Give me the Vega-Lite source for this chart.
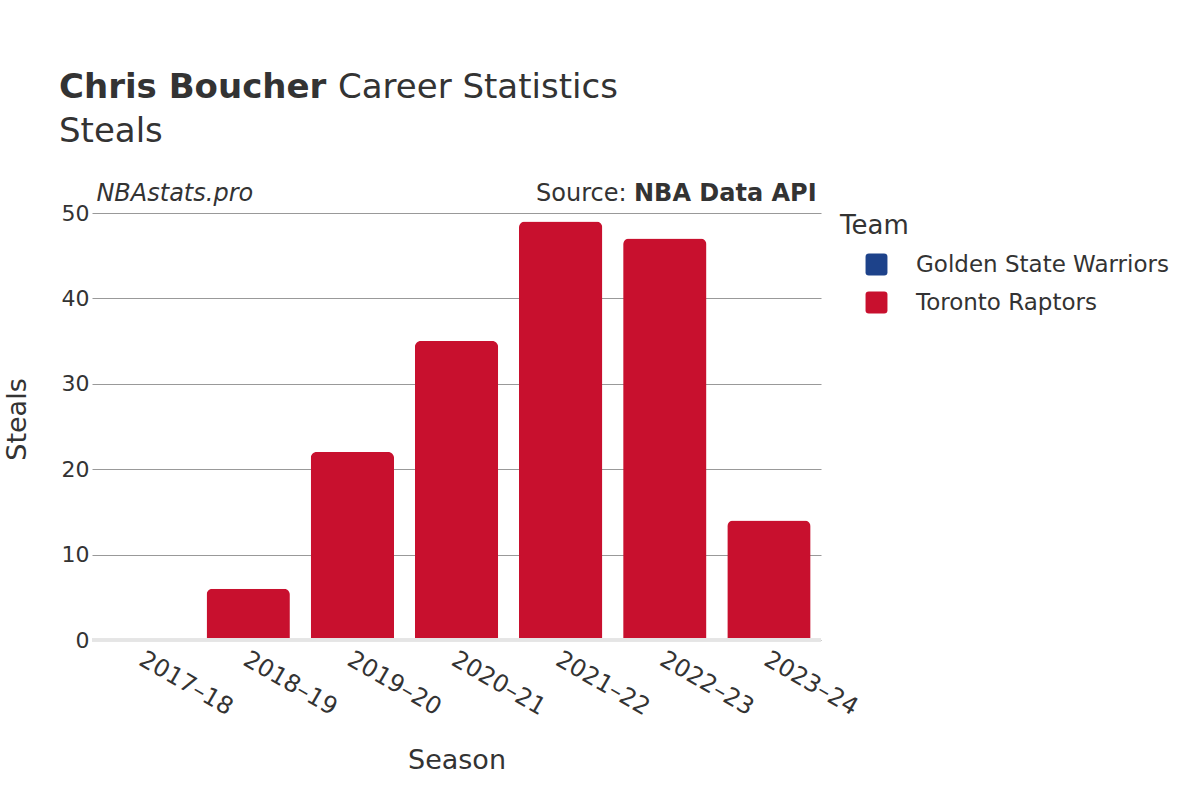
{
  "$schema": "https://vega.github.io/schema/vega-lite/v6.json",
  "background": "white",
  "padding": {"left": 3, "top": 71, "right": 0, "bottom": 0},
  "config": {
    "font": "DejaVu Sans",
    "view": {"stroke": null},
    "concat": {"spacing": 0},
    "title": {"color": "#333333", "anchor": "start", "frame": "group", "fontSize": 34, "offset": 0}
  },
  "datasets": {
    "stats": [
      {"season": "2017–18", "team": "Golden State Warriors", "steals": 0},
      {"season": "2018–19", "team": "Toronto Raptors", "steals": 6},
      {"season": "2019–20", "team": "Toronto Raptors", "steals": 22},
      {"season": "2020–21", "team": "Toronto Raptors", "steals": 35},
      {"season": "2021–22", "team": "Toronto Raptors", "steals": 49},
      {"season": "2022–23", "team": "Toronto Raptors", "steals": 47},
      {"season": "2023–24", "team": "Toronto Raptors", "steals": 14}
    ],
    "notes": [
      {"site": "NBAstats.pro", "source": "Source:", "api": "NBA Data API"}
    ]
  },
  "title": {"text": "Chris Boucher", "fontWeight": "bold", "dx": -33, "dy": 38},
  "vconcat": [
    {
      "title": {"text": "Career Statistics", "fontWeight": "normal", "dx": 246, "dy": -6},
      "vconcat": [
        {
          "title": {"text": "Steals", "fontWeight": "normal", "dx": -33, "dy": 0, "offset": 33},
          "width": 729,
          "height": 427,
          "layer": [
            {
              "data": {"name": "stats"},
              "mark": {"type": "bar", "cornerRadiusEnd": 6},
              "encoding": {
                "x": {
                  "field": "season", "type": "nominal", "title": "Season",
                  "scale": {"paddingInner": 0.2, "paddingOuter": 0.1},
                  "axis": {
                    "labelAngle": 30, "labelAlign": "left", "labelBaseline": "top",
                    "labelFontSize": 24, "labelColor": "#333333", "labelPadding": 7, "labelOffset": 3,
                    "ticks": false, "domain": false, "grid": false,
                    "titleFontSize": 27, "titleFontWeight": "normal", "titleColor": "#333333", "titlePadding": 28
                  }
                },
                "y": {
                  "field": "steals", "type": "quantitative", "title": "Steals",
                  "scale": {"domain": [0, 50], "nice": false},
                  "axis": {
                    "values": [0, 10, 20, 30, 40, 50],
                    "labelFontSize": 22, "labelColor": "#333333", "labelPadding": 3,
                    "ticks": false, "domain": false,
                    "gridColor": "#999999", "gridWidth": 1,
                    "titleFontSize": 27, "titleFontWeight": "normal", "titleColor": "#333333", "titlePadding": 30, "titleY": 206
                  }
                },
                "color": {
                  "field": "team", "type": "nominal", "title": "Team",
                  "scale": {"domain": ["Golden State Warriors", "Toronto Raptors"], "range": ["#1D428A", "#C8102E"]},
                  "legend": {
                    "orient": "right", "offset": -22,
                    "titleFontSize": 26, "titleFontWeight": "normal", "titleColor": "#333333", "titlePadding": 14,
                    "labelFontSize": 23, "labelColor": "#333333", "labelLimit": 400,
                    "symbolType": "M -0.7 -1 L 0.7 -1 Q 1 -1 1 -0.7 L 1 0.7 Q 1 1 0.7 1 L -0.7 1 Q -1 1 -1 0.7 L -1 -0.7 Q -1 -1 -0.7 -1 Z",
                    "symbolSize": 480, "symbolOffset": 25, "symbolStrokeWidth": 0, "labelOffset": 28, "rowPadding": 14
                  }
                }
              }
            },
            {
              "data": {"name": "stats"},
              "mark": {"type": "rule", "color": "#e5e5e5", "strokeWidth": 3},
              "encoding": {"y": {"datum": 0}}
            },
            {
              "data": {"name": "notes"},
              "mark": {"type": "text", "align": "left", "baseline": "alphabetic", "dx": -6, "dy": -12, "fontSize": 24, "fontStyle": "italic", "color": "#333333"},
              "encoding": {
                "x": {"datum": "2017–18", "bandPosition": 0},
                "y": {"datum": 50},
                "text": {"field": "site"}
              }
            },
            {
              "data": {"name": "notes"},
              "mark": {"type": "text", "align": "right", "baseline": "alphabetic", "dx": 6, "dy": -12, "fontSize": 24, "fontWeight": "bold", "color": "#333333"},
              "encoding": {
                "x": {"datum": "2023–24", "bandPosition": 1},
                "y": {"datum": 50},
                "text": {"field": "api"}
              }
            },
            {
              "data": {"name": "notes"},
              "mark": {"type": "text", "align": "right", "baseline": "alphabetic", "dx": -184, "dy": -12, "fontSize": 24, "color": "#333333"},
              "encoding": {
                "x": {"datum": "2023–24", "bandPosition": 1},
                "y": {"datum": 50},
                "text": {"field": "source"}
              }
            }
          ]
        }
      ]
    }
  ]
}
